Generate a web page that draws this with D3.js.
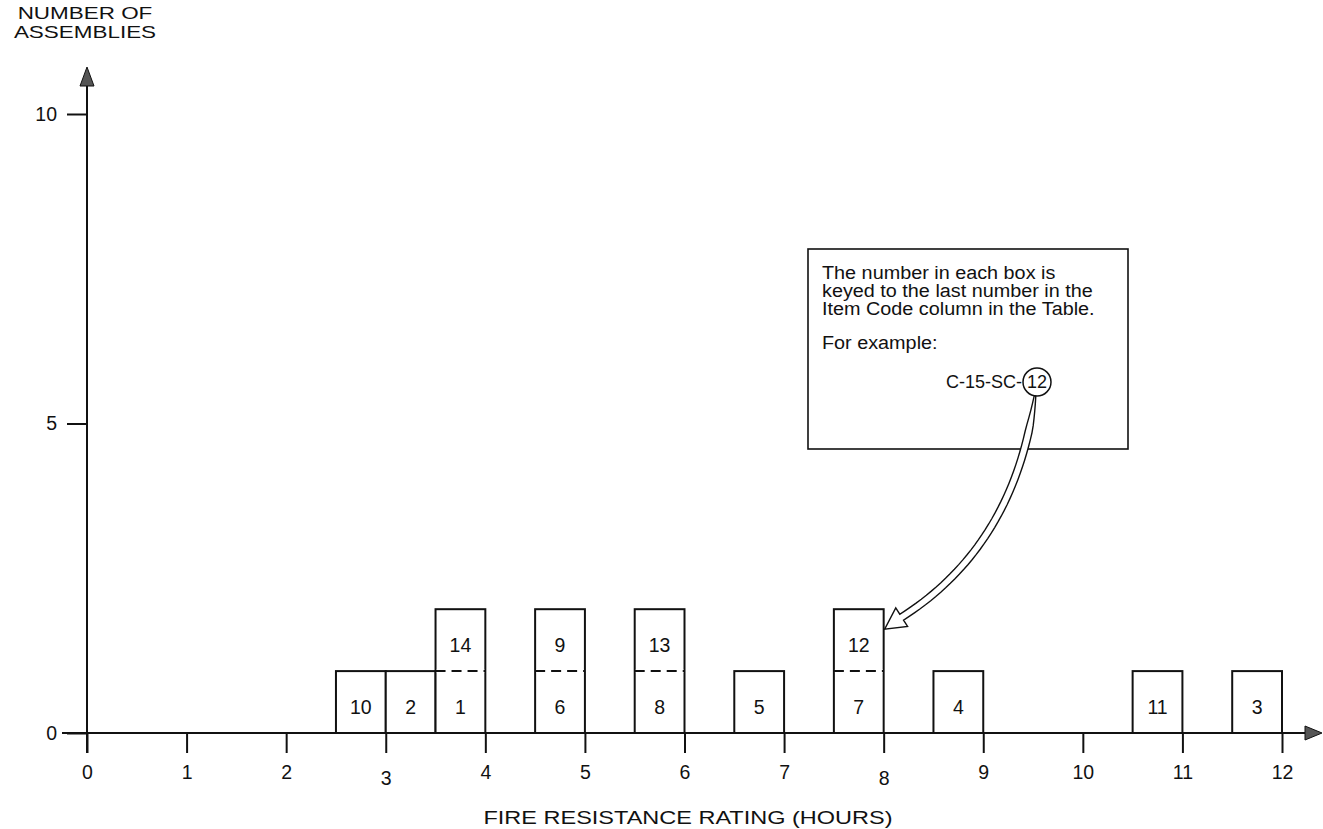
<!DOCTYPE html>
<html>
<head>
<meta charset="utf-8">
<script src="https://cdn.jsdelivr.net/npm/d3@7"></script>
<style>
  html, body { margin: 0; padding: 0; background: #fff; }
  svg { display: block; }
  text { font-family: "Liberation Sans", Arial, Helvetica, sans-serif; fill: #111; }
</style>
</head>
<body>
<svg id="chart" width="1323" height="829"></svg>
<script>
// ---- data ----
const xTickValues = [0, 1, 2, 3, 4, 5, 6, 7, 8, 9, 10, 11, 12];
const yTickValues = [0, 5, 10];
// start of each half-hour bin (hours) and the item codes stacked in that bin (bottom first)
const binStart = [2.5, 3.0, 3.5, 4.5, 5.5, 6.5, 7.5, 8.5, 10.5, 11.5];
const binCodes = [[10], [2], [1, 14], [6, 9], [8, 13], [5], [7, 12], [4], [11], [3]];
const binWidth = 0.5;
const xTitle = "FIRE RESISTANCE RATING (HOURS)";
const yTitle = ["NUMBER OF", "ASSEMBLIES"];
const noteLines = ["The number in each box is", "keyed to the last number in the", "Item Code column in the Table."];
const noteExample = "For example:";
const exampleCode = "C-15-SC-";
const exampleKey = "12";

// ---- layout ----
const svg = d3.select("#chart");
const x = d3.scaleLinear().domain([0, 12]).range([87, 1282]);
const y = d3.scaleLinear().domain([0, 10]).range([733, 114]);
const ink = "#111";

// widen text horizontally (the reference lettering is broader than Arial)
function widen(sel, factor) {
  sel.each(function () {
    const w = this.getComputedTextLength();
    d3.select(this).attr("textLength", w * factor).attr("lengthAdjust", "spacingAndGlyphs");
  });
}

// boxes
const bins = binStart.map((s, i) => ({ start: s, codes: binCodes[i] }));
const gBox = svg.append("g");
bins.forEach(b => {
  const x0 = x(b.start), x1 = x(b.start + binWidth);
  const n = b.codes.length;
  gBox.append("rect")
    .attr("x", x0).attr("y", y(n))
    .attr("width", x1 - x0).attr("height", y(0) - y(n))
    .attr("fill", "#fff").attr("stroke", ink).attr("stroke-width", 2);
  for (let k = 1; k < n; k++) {
    gBox.append("line")
      .attr("x1", x0 + 1).attr("x2", x1 - 1)
      .attr("y1", y(k)).attr("y2", y(k))
      .attr("stroke", "#fff").attr("stroke-width", 3);
    gBox.append("line")
      .attr("x1", x0).attr("x2", x1)
      .attr("y1", y(k)).attr("y2", y(k))
      .attr("stroke", ink).attr("stroke-width", 2)
      .attr("stroke-dasharray", "10,6");
  }
  b.codes.forEach((c, k) => {
    gBox.append("text")
      .attr("x", (x0 + x1) / 2)
      .attr("y", (y(k) + y(k + 1)) / 2 + 12)
      .attr("text-anchor", "middle")
      .attr("font-size", 19.5)
      .text(c);
  });
});

// x axis
const xAxis = d3.axisBottom(x).tickValues(xTickValues).tickSize(20).tickPadding(12).tickSizeOuter(0);
const gx = svg.append("g").attr("transform", `translate(0,${y(0)})`).call(xAxis);
gx.select(".domain").remove();
gx.selectAll(".tick line").attr("stroke", ink).attr("stroke-width", 2);
gx.selectAll(".tick text")
  .attr("font-size", 19.5).attr("fill", ink)
  .attr("font-family", "Liberation Sans, Arial, sans-serif")
  .attr("dy", d => (d === 3 || d === 8) ? "1.05em" : "0.71em");

svg.append("line")
  .attr("x1", x(0) - 25).attr("x2", 1308)
  .attr("y1", y(0)).attr("y2", y(0))
  .attr("stroke", ink).attr("stroke-width", 2);
svg.append("path")
  .attr("d", `M1322,${y(0)} L1305,${y(0) - 7} L1305,${y(0) + 7} Z`)
  .attr("fill", "#555").attr("stroke", ink).attr("stroke-width", 1);

// y axis
const yAxis = d3.axisLeft(y).tickValues(yTickValues).tickSize(20).tickPadding(10).tickSizeOuter(0);
const gy = svg.append("g").attr("transform", `translate(${x(0)},0)`).call(yAxis);
gy.select(".domain").remove();
gy.selectAll(".tick line").attr("stroke", ink).attr("stroke-width", 2);
gy.selectAll(".tick text")
  .attr("font-size", 19.5).attr("fill", ink)
  .attr("font-family", "Liberation Sans, Arial, sans-serif");

svg.append("line")
  .attr("x1", x(0)).attr("x2", x(0))
  .attr("y1", y(0) + 20).attr("y2", 84)
  .attr("stroke", ink).attr("stroke-width", 2);
svg.append("path")
  .attr("d", `M${x(0)},67 L${x(0) - 7},86 L${x(0) + 7},86 Z`)
  .attr("fill", "#555").attr("stroke", ink).attr("stroke-width", 1);

// titles
svg.append("text")
  .attr("x", 688).attr("y", 824)
  .attr("text-anchor", "middle").attr("font-size", 18.5)
  .text(xTitle)
  .call(widen, 1.27);
svg.append("g").selectAll("text").data(yTitle).join("text")
  .attr("x", 85).attr("y", (d, i) => 19 + i * 19)
  .attr("text-anchor", "middle").attr("font-size", 16.5)
  .text(d => d)
  .call(widen, 1.36);

// callout box
const note = { x: 808, y: 249, w: 320, h: 200 };
svg.append("rect")
  .attr("x", note.x).attr("y", note.y).attr("width", note.w).attr("height", note.h)
  .attr("fill", "#fff").attr("stroke", ink).attr("stroke-width", 1.6);
svg.append("g").selectAll("text").data(noteLines).join("text")
  .attr("x", note.x + 14).attr("y", (d, i) => note.y + 30 + i * 18)
  .attr("font-size", 18)
  .text(d => d)
  .call(widen, 1.1);
svg.append("text")
  .attr("x", note.x + 14).attr("y", note.y + 100)
  .attr("font-size", 18).text(noteExample)
  .call(widen, 1.1);
const keyCx = 1037, keyCy = 382, keyR = 14;
svg.append("text")
  .attr("x", keyCx - keyR - 1).attr("y", keyCy + 6)
  .attr("text-anchor", "end").attr("font-size", 18)
  .text(exampleCode);
svg.append("circle")
  .attr("cx", keyCx).attr("cy", keyCy).attr("r", keyR)
  .attr("fill", "none").attr("stroke", ink).attr("stroke-width", 1.5);
svg.append("text")
  .attr("x", keyCx).attr("y", keyCy + 6)
  .attr("text-anchor", "middle").attr("font-size", 18)
  .text(exampleKey);

// hollow curved arrow from key circle to box "12"
(function () {
  const P0 = [keyCx - 2, keyCy + keyR], C = [1015, 545], P1 = [x(8) + 18, y(2) + 8];
  const tip = [x(8) + 1, y(2) + 20];
  const N = 40, half = 3.5;
  const pts = [], tang = [];
  for (let i = 0; i <= N; i++) {
    const t = i / N, u = 1 - t;
    pts.push([u*u*P0[0] + 2*u*t*C[0] + t*t*P1[0], u*u*P0[1] + 2*u*t*C[1] + t*t*P1[1]]);
    const dx = 2*u*(C[0]-P0[0]) + 2*t*(P1[0]-C[0]);
    const dy = 2*u*(C[1]-P0[1]) + 2*t*(P1[1]-C[1]);
    const L = Math.hypot(dx, dy);
    tang.push([dx / L, dy / L]);
  }
  const left = [], right = [];
  pts.forEach((p, i) => {
    const w = i === 0 ? 0.8 : Math.min(half, 0.8 + i * 0.6);
    const n = [-tang[i][1], tang[i][0]];
    left.push([p[0] + n[0]*w, p[1] + n[1]*w]);
    right.push([p[0] - n[0]*w, p[1] - n[1]*w]);
  });
  const e = pts[N], tE = tang[N], nE = [-tE[1], tE[0]];
  const barb = 11;
  const bl = [e[0] + nE[0]*barb, e[1] + nE[1]*barb];
  const br = [e[0] - nE[0]*barb, e[1] - nE[1]*barb];
  const poly = left.concat([bl, tip, br]).concat(right.reverse());
  svg.append("path")
    .attr("d", d3.line()(poly) + "Z")
    .attr("fill", "#fff").attr("stroke", ink).attr("stroke-width", 1.4)
    .attr("stroke-linejoin", "miter");
})();
</script>
</body>
</html>
